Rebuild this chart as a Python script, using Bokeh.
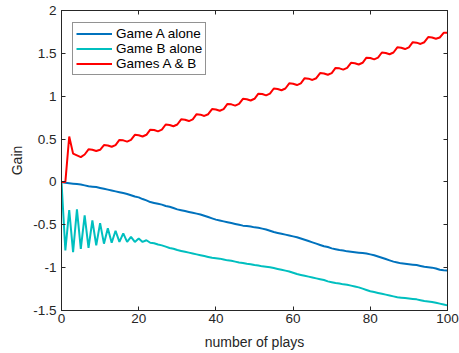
from bokeh.plotting import figure
from bokeh.models import Range1d, LinearAxis, FixedTicker, Legend, LegendItem
from bokeh.embed import file_html
from bokeh.resources import INLINE

plays = list(range(101))

game_a = [0, -0.01, -0.015, -0.02, -0.025, -0.03, -0.04, -0.05, -0.055, -0.06,
          -0.07, -0.08, -0.09, -0.10, -0.11, -0.12, -0.13, -0.14, -0.155, -0.17,
          -0.18, -0.20, -0.215, -0.235, -0.245, -0.255, -0.265, -0.28, -0.29, -0.305,
          -0.32, -0.33, -0.34, -0.35, -0.36, -0.37, -0.38, -0.395, -0.41, -0.425,
          -0.44, -0.45, -0.46, -0.47, -0.48, -0.49, -0.50, -0.51, -0.515, -0.52,
          -0.53, -0.535, -0.545, -0.555, -0.57, -0.585, -0.595, -0.605, -0.615, -0.625,
          -0.635, -0.645, -0.66, -0.675, -0.69, -0.705, -0.72, -0.735, -0.75, -0.76,
          -0.775, -0.785, -0.795, -0.80, -0.81, -0.815, -0.82, -0.825, -0.83, -0.835,
          -0.845, -0.855, -0.87, -0.885, -0.90, -0.915, -0.93, -0.94, -0.95, -0.955,
          -0.96, -0.965, -0.97, -0.98, -0.99, -0.995, -1.00, -1.01, -1.025, -1.03,
          -1.034]

game_b = [0, -0.80, -0.33, -0.82, -0.32, -0.78, -0.39, -0.77, -0.45, -0.74,
          -0.48, -0.72, -0.54, -0.71, -0.57, -0.70, -0.60, -0.70, -0.64, -0.70,
          -0.66, -0.70, -0.68, -0.71, -0.715, -0.73, -0.74, -0.755, -0.77, -0.78,
          -0.795, -0.805, -0.815, -0.825, -0.835, -0.845, -0.855, -0.865, -0.875, -0.885,
          -0.89, -0.895, -0.905, -0.915, -0.92, -0.93, -0.94, -0.945, -0.955, -0.96,
          -0.97, -0.975, -0.985, -0.99, -0.995, -1.005, -1.015, -1.025, -1.035, -1.045,
          -1.06, -1.075, -1.085, -1.095, -1.105, -1.115, -1.125, -1.135, -1.145, -1.16,
          -1.17, -1.18, -1.185, -1.195, -1.20, -1.21, -1.22, -1.23, -1.245, -1.26,
          -1.275, -1.285, -1.295, -1.305, -1.315, -1.325, -1.335, -1.345, -1.35, -1.355,
          -1.36, -1.365, -1.37, -1.38, -1.39, -1.395, -1.40, -1.41, -1.42, -1.43,
          -1.44]

games_ab = [0, 0, 0.53, 0.33, 0.31, 0.29, 0.32, 0.38, 0.375, 0.36,
            0.375, 0.43, 0.425, 0.41, 0.43, 0.49, 0.485, 0.47, 0.49, 0.55,
            0.545, 0.53, 0.55, 0.61, 0.605, 0.59, 0.61, 0.67, 0.665, 0.65,
            0.67, 0.73, 0.725, 0.71, 0.73, 0.79, 0.785, 0.77, 0.79, 0.85,
            0.845, 0.83, 0.85, 0.91, 0.905, 0.89, 0.91, 0.97, 0.965, 0.95,
            0.97, 1.03, 1.025, 1.01, 1.03, 1.09, 1.085, 1.07, 1.09, 1.15,
            1.145, 1.13, 1.15, 1.21, 1.205, 1.19, 1.21, 1.27, 1.265, 1.25,
            1.27, 1.33, 1.325, 1.31, 1.33, 1.39, 1.385, 1.37, 1.39, 1.45,
            1.445, 1.43, 1.45, 1.51, 1.505, 1.49, 1.51, 1.57, 1.565, 1.55,
            1.57, 1.63, 1.625, 1.61, 1.63, 1.69, 1.685, 1.67, 1.685, 1.74,
            1.74]

series_names = ["Game A alone", "Game B alone", "Games A & B"]
series_colors = ["#0072BD", "#00BFBF", "#FF0000"]

x_ticks = [0, 20, 40, 60, 80, 100]
y_ticks = [-1.5, -1, -0.5, 0, 0.5, 1, 1.5, 2]
y_tick_labels = ["-1.5", "-1", "-0.5", "0", "0.5", "1", "1.5", "2"]

FONT = "Liberation Sans"
AX = "#262626"

p = figure(width=459, height=353, output_backend="svg", toolbar_location=None,
           x_range=Range1d(0, 100), y_range=Range1d(-1.5, 2),
           x_axis_label="number of plays", y_axis_label="Gain",
           min_border_left=61, min_border_right=12, min_border_top=10, min_border_bottom=43)
p.grid.visible = False
p.outline_line_color = AX
p.outline_line_width = 1
p.background_fill_color = "white"
p.border_fill_color = "white"

renderers = []
for ys, c in zip([game_a, game_b, games_ab], series_colors):
    r = p.line(plays, ys, line_color=c, line_width=2)
    renderers.append(r)

def style_axis(ax, labels=True):
    ax.axis_line_color = AX
    ax.major_tick_line_color = AX
    ax.major_tick_in = 4
    ax.major_tick_out = 0
    ax.minor_tick_line_color = None
    ax.major_label_text_font = FONT
    ax.major_label_text_color = AX
    ax.major_label_text_font_size = "13.5px"
    ax.axis_label_text_font = FONT
    ax.axis_label_text_font_style = "normal"
    ax.axis_label_text_color = AX
    ax.axis_label_text_font_size = "14px"
    if not labels:
        ax.major_label_text_font_size = "0px"
        ax.major_label_text_color = None

p.xaxis.ticker = FixedTicker(ticks=x_ticks)
p.yaxis.ticker = FixedTicker(ticks=y_ticks)
p.yaxis.major_label_overrides = {t: l for t, l in zip(y_ticks, y_tick_labels)}
for ax in p.xaxis:
    style_axis(ax)
    ax.major_label_standoff = 3
    ax.axis_label_standoff = 8
for ax in p.yaxis:
    style_axis(ax)
    ax.major_label_standoff = 5
    ax.axis_label_standoff = 5

top = LinearAxis(ticker=FixedTicker(ticks=x_ticks))
style_axis(top, labels=False)
right = LinearAxis(ticker=FixedTicker(ticks=y_ticks))
style_axis(right, labels=False)
p.add_layout(top, "above")
p.add_layout(right, "right")

legend = Legend(items=[LegendItem(label=n, renderers=[r]) for n, r in zip(series_names, renderers)],
                location=(11, 235))
legend.label_text_font = FONT
legend.label_text_font_size = "13.5px"
legend.label_text_color = "#000000"
legend.border_line_color = AX
legend.border_line_width = 1
legend.background_fill_alpha = 1
legend.glyph_width = 36
legend.glyph_height = 15
legend.label_height = 15
legend.label_standoff = 4
legend.padding = 3
legend.spacing = 0
legend.margin = 0
p.add_layout(legend, "center")

open("out.html", "w").write(file_html(p, INLINE))
